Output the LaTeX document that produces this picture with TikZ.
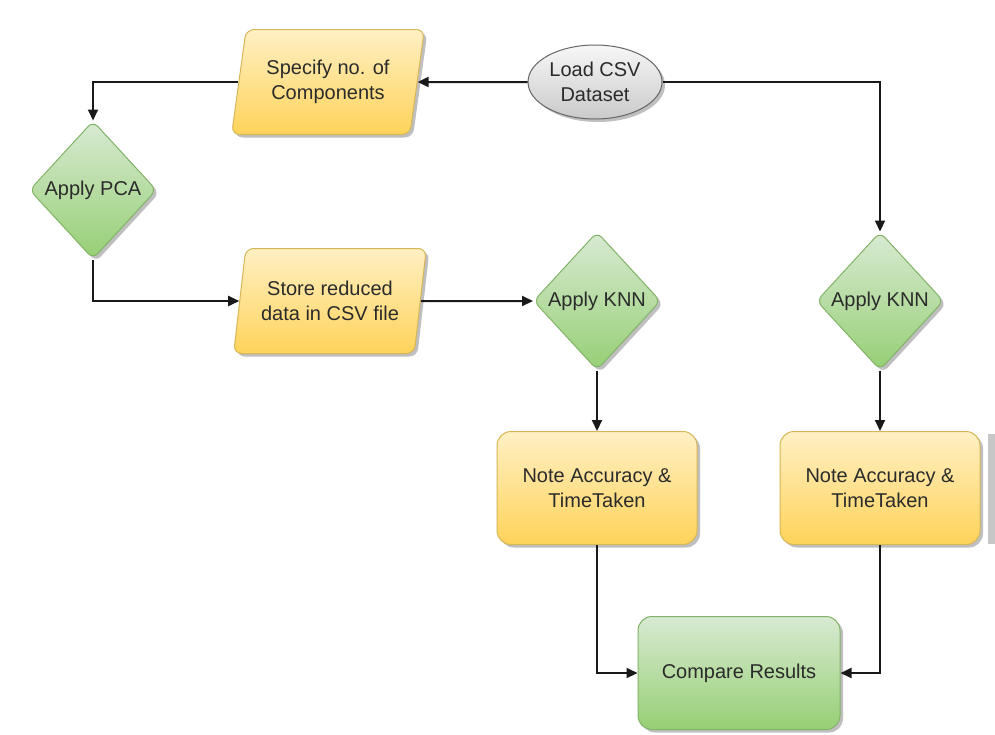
\documentclass[tikz,border=0pt]{standalone}
\usepackage{fontspec}
\setmainfont{Liberation Sans}
\usetikzlibrary{shapes.geometric,shadows,arrows.meta}

\definecolor{txt}{HTML}{2B2B2B}
\definecolor{ylwtop}{HTML}{FFF0C4}
\definecolor{ylwbot}{HTML}{FFD35A}
\definecolor{ylwline}{HTML}{D6B656}
\definecolor{grntop}{HTML}{D8EAD3}
\definecolor{grnbot}{HTML}{96CF74}
\definecolor{grnline}{HTML}{82B366}
\definecolor{grytop}{HTML}{F7F7F7}
\definecolor{grybot}{HTML}{CACACA}
\definecolor{gryline}{HTML}{666666}

\tikzset{
  base/.style={line width=1pt, text=txt, align=center, inner sep=0pt,
    font=\fontsize{20}{25}\selectfont,
    drop shadow={shadow xshift=3pt, shadow yshift=-3pt, fill=black, opacity=0.25}},
  startnode/.style={base, ellipse, draw=gryline, top color=grytop, bottom color=grybot,
    minimum width=134pt, minimum height=74pt},
  iobox/.style={base, trapezium, trapezium left angle=76, trapezium right angle=104,
    trapezium stretches=true, minimum width=193pt, minimum height=105pt,
    rounded corners=8pt, draw=ylwline, top color=ylwtop, bottom color=ylwbot},
  decide/.style={base, diamond, minimum width=127pt, minimum height=138pt,
    rounded corners=7pt, draw=grnline, top color=grntop, bottom color=grnbot},
  notebox/.style={base, rectangle, minimum width=200pt, minimum height=113pt,
    rounded corners=14pt, draw=ylwline, top color=ylwtop, bottom color=ylwbot},
  resultbox/.style={base, rectangle, minimum width=202pt, minimum height=113pt,
    rounded corners=14pt, draw=grnline, top color=grntop, bottom color=grnbot},
  conn/.style={line width=2pt, draw=black!90, -{Triangle[length=11pt,width=10pt]}}
}

\begin{document}
\begin{tikzpicture}[x=1pt,y=-1pt]
  \useasboundingbox[fill=white] (0,0) rectangle (995,734);

  % nodes
  \node[startnode] (load)  at (595,82)  {Load CSV\\Dataset};
  \node[iobox]     (spec)  at (328,82)  {Specify no. of\\Components};
  \node[decide]    (pca)   at (93,190)  {Apply PCA};
  \node[iobox]     (store) at (330,301) {Store reduced\\data in CSV file};
  \node[decide]    (knn1)  at (597,301) {Apply KNN};
  \node[decide]    (knn2)  at (880,301) {Apply KNN};
  \node[notebox]   (note1) at (597,488) {Note Accuracy \&\\TimeTaken};
  \node[notebox]   (note2) at (880,488) {Note Accuracy \&\\TimeTaken};
  \node[resultbox] (cmp)   at (739,673) {Compare Results};

  % partly visible box at the right border
  \fill[black!22] (988,434) rectangle (995,544);

  % connectors
  \draw[conn] (load) -- (spec);
  \draw[conn] (spec.west) -| (pca.north);
  \draw[conn] (pca.south) |- (store.west);
  \draw[conn] (store) -- (knn1);
  \draw[conn] (knn1) -- (note1);
  \draw[conn] (note1.south) |- (cmp.west);
  \draw[conn] (load.east) -| (knn2.north);
  \draw[conn] (knn2) -- (note2);
  \draw[conn] (note2.south) |- (cmp.east);
\end{tikzpicture}
\end{document}
